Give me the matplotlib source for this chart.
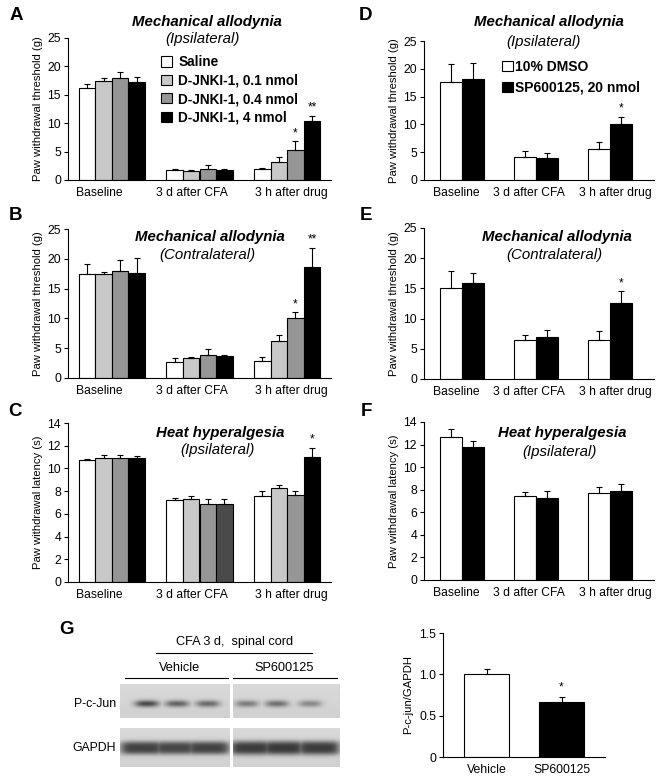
import numpy as np
import matplotlib.pyplot as plt
from matplotlib.patches import Patch

plt.rcParams['font.family'] = ['Liberation Sans', 'DejaVu Sans']

W, H = 664, 782

groups = ['Baseline', '3 d after CFA', '3 h after drug']
# the category labels sit slightly off the group centres in the original
label_shift_left = [-0.14, -0.09, 0.05]
label_shift_right = [-0.08, -0.1, 0.08]

# D-JNKI-1 experiment (A-C): one row per treatment, one column per time point
jnk_names = ['Saline', 'D-JNKI-1, 0.1 nmol', 'D-JNKI-1, 0.4 nmol', 'D-JNKI-1, 4 nmol']
jnk_colors = ['white', '#c8c8c8', '#969696', 'black']

a_mean = [[16.2, 1.8, 2.0], [17.5, 1.5, 3.2], [18.0, 2.0, 5.2], [17.2, 1.7, 10.3]]
a_err = [[0.7, 0.2, 0.2], [0.5, 0.2, 0.8], [1.1, 0.6, 1.6], [1.0, 0.2, 1.0]]
a_star = [['', '', ''], ['', '', ''], ['', '', '*'], ['', '', '**']]

b_mean = [[17.4, 2.7, 2.9], [17.4, 3.4, 6.2], [17.9, 3.8, 10.0], [17.6, 3.7, 18.7]]
b_err = [[1.7, 0.7, 0.6], [0.4, 0.2, 1.0], [1.9, 1.0, 1.0], [2.5, 0.2, 3.1]]
b_star = [['', '', ''], ['', '', ''], ['', '', '*'], ['', '', '**']]

c_mean = [[10.7, 7.2, 7.6], [10.9, 7.3, 8.3], [10.9, 6.9, 7.65], [10.9, 6.9, 11.0]]
c_err = [[0.15, 0.2, 0.4], [0.25, 0.3, 0.25], [0.25, 0.4, 0.35], [0.2, 0.4, 0.8]]
c_star = [['', '', ''], ['', '', ''], ['', '', ''], ['', '', '*']]

# SP600125 experiment (D-F)
sp_names = ['10% DMSO', 'SP600125, 20 nmol']
sp_colors = ['white', 'black']

d_mean = [[17.6, 4.2, 5.6], [18.1, 4.0, 10.0]]
d_err = [[3.2, 1.1, 1.3], [2.9, 0.9, 1.4]]
d_star = [['', '', ''], ['', '', '*']]

e_mean = [[15.0, 6.4, 6.5], [15.9, 7.0, 12.6]]
e_err = [[2.8, 0.9, 1.5], [1.6, 1.1, 1.9]]
e_star = [['', '', ''], ['', '', '*']]

f_mean = [[12.67, 7.4, 7.7], [11.8, 7.3, 7.9]]
f_err = [[0.7, 0.4, 0.5], [0.5, 0.6, 0.65]]
f_star = [['', '', ''], ['', '', '']]

# western blot quantification (G)
g_names = ['Vehicle', 'SP600125']
g_mean = [1.0, 0.66]
g_err = [0.07, 0.06]
g_star = ['', '*']

# band darkness per lane (0 = none, 1 = black)
pjun_vehicle = [0.55, 0.45, 0.42]
pjun_sp = [0.35, 0.40, 0.30]
gapdh_vehicle = [0.58, 0.56, 0.58]
gapdh_sp = [0.60, 0.61, 0.60]


def px_axes(fig, x0, y0, x1, y1):
    return fig.add_axes([x0 / W, 1 - y1 / H, (x1 - x0) / W, (y1 - y0) / H])


def bar_panel(ax, means, errs, stars, colors, width, ymax, ystep, ylabel, xlim,
              shifts, overrides=None):
    x = np.arange(len(groups))
    n = len(means)
    for i in range(n):
        cols = [colors[i]] * len(groups)
        if overrides and i in overrides:
            cols = overrides[i]
        pos = x + (i - (n - 1) / 2) * width
        m = np.array(means[i])
        e = np.array(errs[i])
        ax.bar(pos, m, width, color=cols, edgecolor='black', linewidth=0.8,
               yerr=[np.zeros_like(e), e],
               error_kw=dict(ecolor='black', elinewidth=0.8, capsize=2.5, capthick=0.8))
        for p, top, s in zip(pos, m + e, stars[i]):
            if s:
                ax.text(p, top + ymax * 0.015, s, ha='center', va='bottom', fontsize=8.5)
    ax.set_xlim(*xlim)
    ax.set_ylim(0, ymax)
    ax.set_yticks(np.arange(0, ymax + 0.01, ystep))
    ax.set_xticks(x + np.array(shifts))
    ax.set_xticklabels(groups, fontsize=8.7)
    ax.tick_params(axis='x', length=0, pad=5)
    ax.tick_params(axis='y', labelsize=8.8, length=3, width=0.8, pad=2)
    ax.set_ylabel(ylabel, fontsize=8.1, labelpad=3)
    for side in ['top', 'right']:
        ax.spines[side].set_visible(False)
    for side in ['left', 'bottom']:
        ax.spines[side].set_linewidth(0.8)


def titles(ax, t1, t2, x1, y1, x2, y2):
    ax.text(x1, y1, t1, transform=ax.transAxes, ha='center', va='center',
            fontsize=10.8, fontweight='bold', fontstyle='italic')
    ax.text(x2, y2, t2, transform=ax.transAxes, ha='center', va='center',
            fontsize=10.8, fontstyle='italic')


fig = plt.figure(figsize=(W / 100, H / 100), dpi=100)

thr = 'Paw withdrawal threshold (g)'
lat = 'Paw withdrawal latency (s)'

# A
ax = px_axes(fig, 68, 38, 331, 180)
bar_panel(ax, a_mean, a_err, a_star, jnk_colors, 0.19, 25, 5, thr, (-0.5, 2.5),
          label_shift_left)
titles(ax, 'Mechanical allodynia', '(Ipsilateral)', 0.53, 1.115, 0.51, 0.99)
ax.legend(handles=[Patch(facecolor=c, edgecolor='black', linewidth=0.8) for c in jnk_colors],
          labels=jnk_names, loc='upper left', bbox_to_anchor=(0.355, 0.88),
          frameon=False, borderpad=0, borderaxespad=0, handlelength=0.8,
          handleheight=0.8, handletextpad=0.45, labelspacing=0.33,
          prop=dict(weight='bold', size=9.8))

# B
ax = px_axes(fig, 68, 229, 331, 378)
bar_panel(ax, b_mean, b_err, b_star, jnk_colors, 0.19, 25, 5, thr, (-0.5, 2.5),
          label_shift_left)
titles(ax, 'Mechanical allodynia', '(Contralateral)', 0.54, 0.945, 0.53, 0.825)

# C
ax = px_axes(fig, 68, 423, 331, 582)
bar_panel(ax, c_mean, c_err, c_star, jnk_colors, 0.19, 14, 2, lat, (-0.5, 2.5),
          label_shift_left, overrides={3: ['black', '#4a4a4a', 'black']})
titles(ax, 'Heat hyperalgesia', '(Ipsilateral)', 0.58, 0.935, 0.57, 0.83)

# D
ax = px_axes(fig, 424, 41, 654, 180)
bar_panel(ax, d_mean, d_err, d_star, sp_colors, 0.3, 25, 5, thr, (-0.52, 2.6),
          label_shift_right)
titles(ax, 'Mechanical allodynia', '(Ipsilateral)', 0.545, 1.135, 0.52, 0.99)
ax.legend(handles=[Patch(facecolor=c, edgecolor='black', linewidth=0.8) for c in sp_colors],
          labels=sp_names, loc='upper left', bbox_to_anchor=(0.34, 0.865),
          frameon=False, borderpad=0, borderaxespad=0, handlelength=0.8,
          handleheight=0.8, handletextpad=0.15, labelspacing=0.5,
          prop=dict(weight='bold', size=10))

# E
ax = px_axes(fig, 424, 228, 654, 379)
bar_panel(ax, e_mean, e_err, e_star, sp_colors, 0.3, 25, 5, thr, (-0.52, 2.6),
          label_shift_right)
titles(ax, 'Mechanical allodynia', '(Contralateral)', 0.58, 0.94, 0.565, 0.82)

# F
ax = px_axes(fig, 424, 422, 654, 580)
bar_panel(ax, f_mean, f_err, f_star, sp_colors, 0.3, 14, 2, lat, (-0.52, 2.6),
          label_shift_right)
titles(ax, 'Heat hyperalgesia', '(Ipsilateral)', 0.6, 0.93, 0.59, 0.81)

# G quantification
ax = px_axes(fig, 443, 633, 605, 757)
gx = np.arange(len(g_names))
ax.bar(gx, g_mean, 0.6, color=['white', 'black'], edgecolor='black', linewidth=0.8,
       yerr=[np.zeros(2), g_err],
       error_kw=dict(ecolor='black', elinewidth=0.8, capsize=2.5, capthick=0.8))
for p, top, s in zip(gx, np.array(g_mean) + np.array(g_err), g_star):
    if s:
        ax.text(p, top + 0.05, s, ha='center', va='bottom', fontsize=8.5)
ax.set_xlim(-0.58, 1.58)
ax.set_ylim(0, 1.5)
ax.set_yticks([0, 0.5, 1.0, 1.5])
ax.set_yticklabels(['0', '0.5', '1.0', '1.5'])
ax.set_xticks(gx)
ax.set_xticklabels(g_names, fontsize=8.8)
ax.tick_params(axis='x', length=0, pad=5)
ax.tick_params(axis='y', labelsize=8.8, length=3, width=0.8, pad=2)
ax.set_ylabel('P-c-jun/GAPDH', fontsize=8.1, labelpad=4)
for side in ['top', 'right']:
    ax.spines[side].set_visible(False)


# G western blot
def blot(x0, y0, x1, y1, dark, centers, halfw, yc, sig, expo, vexpo):
    ax = px_axes(fig, x0, y0, x1, y1)
    w, h = int(x1 - x0) * 3, int(y1 - y0) * 3
    xx = np.linspace(0, 1, w)[None, :]
    yy = np.linspace(0, 1, h)[:, None]
    band = np.zeros((h, w))
    for c, d in zip(centers, dark):
        prof = np.exp(-np.abs((xx - c) / halfw) ** expo) * np.exp(-np.abs((yy - yc) / sig) ** vexpo)
        band = np.maximum(band, d * prof)
    img = 0.85 - 0.03 * yy - band
    ax.imshow(np.clip(img, 0, 1), cmap='gray', vmin=0, vmax=1, aspect='auto',
              interpolation='bilinear')
    ax.axis('off')


blot(120, 684, 230, 718, pjun_vehicle, [0.245, 0.52, 0.8], 0.11, 0.58, 0.1, 3, 2)
blot(233, 684, 340, 718, pjun_sp, [0.13, 0.41, 0.72], 0.11, 0.58, 0.1, 3, 2)
blot(120, 728, 230, 767, gapdh_vehicle, [0.2, 0.5, 0.8], 0.2, 0.51, 0.17, 6, 3)
blot(233, 728, 340, 767, gapdh_sp, [0.17, 0.47, 0.8], 0.2, 0.51, 0.18, 6, 3)

ov = fig.add_axes([0, 0, 1, 1], facecolor='none')
ov.set_xlim(0, W)
ov.set_ylim(H, 0)
ov.axis('off')
ov.text(116, 704, 'P-c-Jun', ha='right', va='center', fontsize=8.8)
ov.text(116, 748, 'GAPDH', ha='right', va='center', fontsize=8.8)
ov.text(235, 642, 'CFA 3 d,  spinal cord', ha='center', va='center', fontsize=9.2)
ov.plot([156, 312], [653, 653], color='black', lw=0.8)
ov.text(180, 668, 'Vehicle', ha='center', va='center', fontsize=9.2)
ov.plot([125, 228], [678, 678], color='black', lw=0.8)
ov.text(284, 668, 'SP600125', ha='center', va='center', fontsize=9.2)
ov.plot([233, 337], [678, 678], color='black', lw=0.8)

for letter, lx, ly in [('A', 16, 15), ('B', 15, 216), ('C', 15, 412),
                       ('D', 366, 16), ('E', 366, 216), ('F', 366, 412),
                       ('G', 66, 629)]:
    ov.text(lx, ly, letter, ha='center', va='center', fontsize=13.5, fontweight='bold')

fig.savefig('out.png', dpi=100)
